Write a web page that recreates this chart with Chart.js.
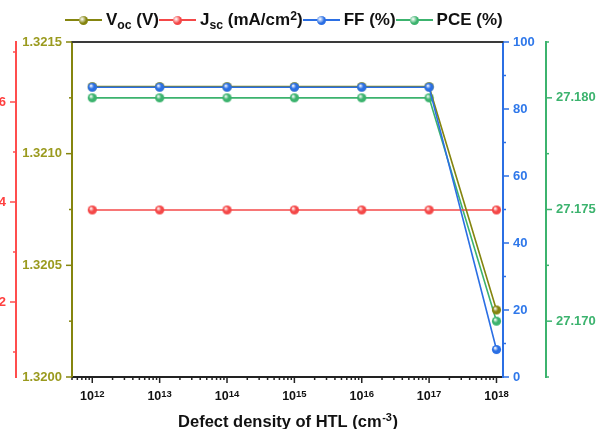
<!DOCTYPE html>
<html>
<head>
<meta charset="utf-8">
<script src="https://cdn.jsdelivr.net/npm/chart.js@4.4.1/dist/chart.umd.min.js"></script>
<style>
  html, body { margin: 0; padding: 0; background: #fff; overflow: hidden; }
  #wrap { position: relative; width: 597px; height: 429px; overflow: hidden; }
  #chart { position: absolute; left: -40px; top: 0; }
  #legend { position: absolute; left: 65px; top: 9px; display: flex; align-items: center;
    font: bold 17px 'Liberation Sans', Arial, sans-serif; color: #111; line-height: 22px; white-space: nowrap; }
  .item { display: flex; align-items: center; }
  .sym { position: relative; width: 37px; height: 12px; margin-right: 4px; }
  .sym .ln { position: absolute; left: 0; right: 0; top: 5px; height: 2px; }
  .sym .dot { position: absolute; left: 14px; top: 1.5px; width: 9px; height: 9px; border-radius: 50%; }
  sub, sup { font-size: 72%; line-height: 0; position: relative; vertical-align: baseline; }
  sub { bottom: -0.3em; }
  sup { top: -0.45em; }
</style>
</head>
<body>
<div id="wrap">
  <canvas id="chart" width="637" height="429"></canvas>
  <div id="legend"></div>
</div>
<script>
// data
const densities = [1e12, 1e13, 1e14, 1e15, 1e16, 1e17, 1e18];
const vocValues = [1.3213, 1.3213, 1.3213, 1.3213, 1.3213, 1.3213, 1.3203];
const jscValues = [23.84, 23.84, 23.84, 23.84, 23.84, 23.84, 23.84];
const ffValues = [86.5, 86.5, 86.5, 86.5, 86.5, 86.5, 8.2];
const pceValues = [27.180, 27.180, 27.180, 27.180, 27.180, 27.180, 27.170];

const seriesNames = ['Voc (V)', 'Jsc (mA/cm2)', 'FF (%)', 'PCE (%)'];
const legendLabels = ['V<sub>oc</sub> (V)', 'J<sub>sc</sub> (mA/cm<sup>2</sup>)', 'FF (%)', 'PCE (%)'];
const colors = ['#85850f', '#f44848', '#2b6fe4', '#3cb36e'];
const labelColors = ['#9a9a1e', '#ff4040', '#2f78ea', '#3cb36e'];

// axes
const xRange = [5e11, 1.25e18];
const xMajor = [1e12, 1e13, 1e14, 1e15, 1e16, 1e17, 1e18];
const xMinorSteps = [2, 3, 4, 5, 6, 7, 8, 9];
const xTitle = ['Defect density of HTL (cm', '-3', ')'];

const vocRange = [1.3200, 1.3215];
const vocMajor = [1.3200, 1.3205, 1.3210, 1.3215];
const vocMinor = [1.32025, 1.32075, 1.32125];

const jscRange = [20.5, 27.2];
const jscMajor = [22, 24, 26];
const jscMinor = [21, 23, 25, 27];

const ffRange = [0, 100];
const ffMajor = [0, 20, 40, 60, 80, 100];
const ffMinor = [10, 30, 50, 70, 90];

const pceRange = [27.1675, 27.1825];
const pceMajor = [27.170, 27.175, 27.180];
const pceMinor = [27.1675, 27.1725, 27.1775, 27.1825];

const xMinor = [];
[1e11].concat(xMajor).forEach(d => xMinorSteps.forEach(k => {
  const v = k * d;
  if (v >= xRange[0] && v <= xRange[1]) xMinor.push(v);
}));

const FONT = "'Liberation Sans', Arial, sans-serif";
Chart.defaults.font.family = FONT;

const axisTicks = {
  x: { major: xMajor, minor: xMinor, color: '#222' },
  yV: { major: vocMajor, minor: vocMinor, color: colors[0], digits: 4 },
  yJ: { major: jscMajor, minor: jscMinor, color: '#ff4d4d', digits: 0 },
  yF: { major: ffMajor, minor: ffMinor, color: colors[2], digits: 0 },
  yP: { major: pceMajor, minor: pceMinor, color: colors[3], digits: 3 }
};

function isMajor(id, v) {
  return axisTicks[id].major.some(m => Math.abs(m - v) < 1e-9);
}

function dotImage(color) {
  const c = document.createElement('canvas');
  c.width = 11; c.height = 11;
  const g = c.getContext('2d');
  const grad = g.createRadialGradient(4, 3.8, 0.3, 5.5, 5.5, 5.2);
  grad.addColorStop(0, '#ffffff');
  grad.addColorStop(0.45, color);
  grad.addColorStop(1, color);
  g.fillStyle = grad;
  g.beginPath();
  g.arc(5.5, 5.5, 4.6, 0, Math.PI * 2);
  g.fill();
  return c;
}

function yAxis(id, pos, weight, range, width, color) {
  return {
    type: 'linear', position: pos, weight: weight,
    min: range[0], max: range[1],
    grid: { display: false, drawTicks: false },
    border: { display: true, color: color, width: 2 },
    afterBuildTicks: s => {
      s.ticks = axisTicks[id].major.concat(axisTicks[id].minor)
        .sort((a, b) => a - b).map(v => ({ value: v }));
    },
    afterFit: s => { s.width = width; },
    ticks: {
      autoSkip: false, padding: 10,
      color: labelColors[['yV', 'yJ', 'yF', 'yP'].indexOf(id)],
      font: { size: 13, weight: 'bold' },
      callback: v => isMajor(id, v) ? v.toFixed(axisTicks[id].digits) : ''
    }
  };
}

const seriesData = [vocValues, jscValues, ffValues, pceValues];
const axisIds = ['yV', 'yJ', 'yF', 'yP'];

const frameAndTicks = {
  id: 'frameAndTicks',
  afterDraw(chart) {
    const ctx = chart.ctx;
    const a = chart.chartArea;
    ctx.save();
    ctx.strokeStyle = '#3a3a3a';
    ctx.lineWidth = 2;
    ctx.beginPath();
    ctx.moveTo(a.left - 1, a.top);
    ctx.lineTo(a.right + 1, a.top);
    ctx.stroke();

    for (const id in axisTicks) {
      const s = chart.scales[id];
      const t = axisTicks[id];
      ctx.strokeStyle = t.color;
      ctx.lineWidth = 1.5;
      const marks = t.major.map(v => [v, 6]).concat(t.minor.map(v => [v, 3]));
      marks.forEach(([v, len]) => {
        const p = s.getPixelForValue(v);
        ctx.beginPath();
        if (s.position === 'left') { ctx.moveTo(s.right, p); ctx.lineTo(s.right - len, p); }
        else if (s.position === 'right') { ctx.moveTo(s.left, p); ctx.lineTo(s.left + len, p); }
        else { ctx.moveTo(p, s.top); ctx.lineTo(p, s.top + len); }
        ctx.stroke();
      });
    }

    // x tick labels 10^n
    const sx = chart.scales.x;
    ctx.fillStyle = '#111';
    ctx.textBaseline = 'alphabetic';
    ctx.textAlign = 'left';
    xMajor.forEach(v => {
      const base = '10', exp = String(Math.round(Math.log10(v)));
      ctx.font = 'bold 12.5px ' + FONT;
      const wb = ctx.measureText(base).width;
      ctx.font = 'bold 9.5px ' + FONT;
      const we = ctx.measureText(exp).width;
      const x0 = sx.getPixelForValue(v) - (wb + we) / 2;
      ctx.font = 'bold 12.5px ' + FONT;
      ctx.fillText(base, x0, sx.top + 23);
      ctx.font = 'bold 9.5px ' + FONT;
      ctx.fillText(exp, x0 + wb, sx.top + 19.5);
    });

    // x title with superscript
    ctx.font = 'bold 16.5px ' + FONT;
    const w1 = ctx.measureText(xTitle[0]).width;
    const w3 = ctx.measureText(xTitle[2]).width;
    ctx.font = 'bold 11px ' + FONT;
    const w2 = ctx.measureText(xTitle[1]).width;
    let tx = (a.left + a.right) / 2 - (w1 + w2 + w3) / 2;
    const ty = sx.top + 49.5;
    ctx.font = 'bold 16.5px ' + FONT;
    ctx.fillText(xTitle[0], tx, ty);
    ctx.font = 'bold 11px ' + FONT;
    ctx.fillText(xTitle[1], tx + w1 + 0.5, ty - 6);
    ctx.font = 'bold 16.5px ' + FONT;
    ctx.fillText(xTitle[2], tx + w1 + w2 + 1, ty);
    ctx.restore();
  }
};

const chart = new Chart(document.getElementById('chart'), {
  type: 'line',
  data: {
    labels: densities,
    datasets: seriesNames.map((name, i) => ({
      label: name,
      data: densities.map((d, j) => ({ x: d, y: seriesData[i][j] })),
      yAxisID: axisIds[i],
      borderColor: colors[i],
      borderWidth: 1.6,
      pointStyle: dotImage(colors[i]),
      pointRadius: 5,
      tension: 0,
      clip: false,
      order: i === 2 ? 0 : i + 1
    }))
  },
  options: {
    responsive: false,
    animation: false,
    layout: { padding: { top: 42, left: 0, right: 0, bottom: 0 } },
    plugins: { legend: { display: false }, tooltip: { enabled: false } },
    scales: {
      x: {
        type: 'logarithmic', min: xRange[0], max: xRange[1],
        grid: { display: false, drawTicks: false },
        border: { display: true, color: '#222', width: 2 },
        afterBuildTicks: s => {
          s.ticks = xMajor.concat(xMinor).sort((a, b) => a - b).map(v => ({ value: v }));
        },
        afterFit: s => { s.height = 52; },
        ticks: { display: false }
      },
      yV: yAxis('yV', 'left', 0, vocRange, 56, colors[0]),
      yJ: yAxis('yJ', 'left', 1, jscRange, 56, '#ff4d4d'),
      yF: yAxis('yF', 'right', 0, ffRange, 43, colors[2]),
      yP: yAxis('yP', 'right', 1, pceRange, 51, colors[3])
    }
  },
  plugins: [frameAndTicks]
});

// html legend with sub/superscripts
const legend = document.getElementById('legend');
chart.data.datasets.forEach((ds, i) => {
  const item = document.createElement('div');
  item.className = 'item';
  item.innerHTML = '<div class="sym"><div class="ln" style="background:' + ds.borderColor + '"></div>' +
    '<div class="dot" style="background:radial-gradient(circle at 35% 35%, #fff 0%, ' + ds.borderColor +
    ' 50%, ' + ds.borderColor + ' 100%)"></div></div><span>' + legendLabels[i] + '</span>';
  legend.appendChild(item);
});
</script>
</body>
</html>
